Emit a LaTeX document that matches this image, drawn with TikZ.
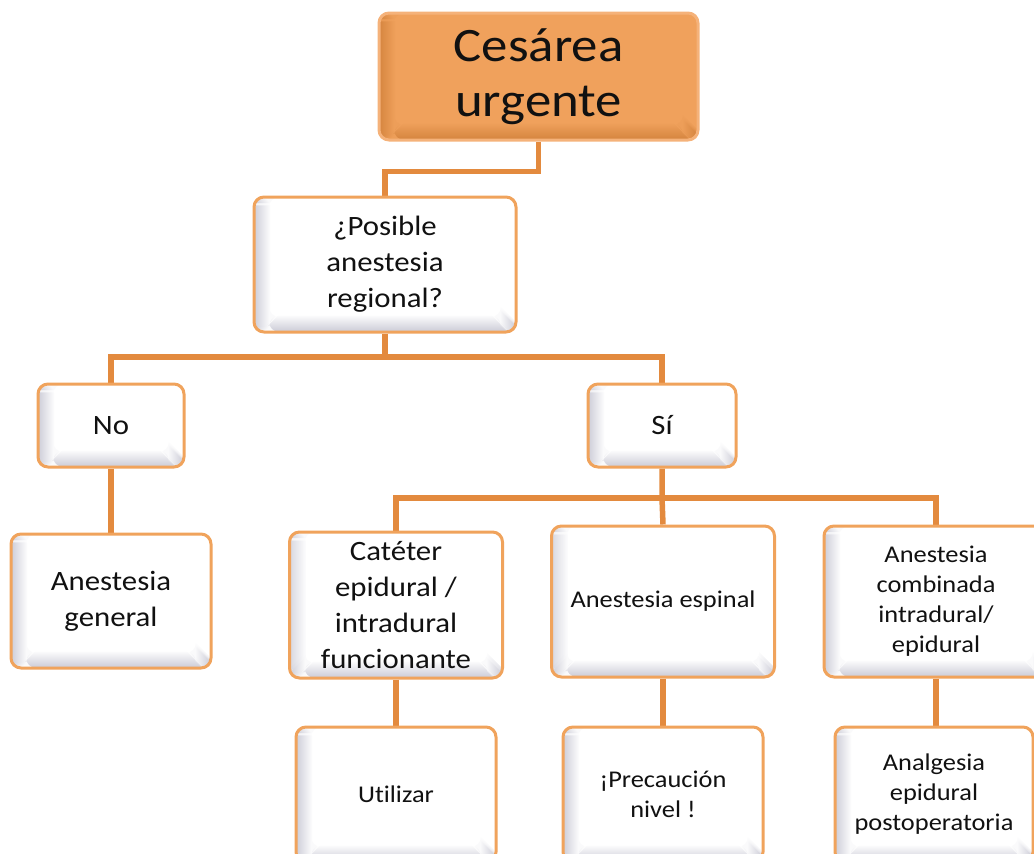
\documentclass[tikz,border=0pt]{standalone}
\usepackage{fontspec}
\setmainfont{Carlito}[FakeStretch=1.1,Ligatures={NoCommon}]
\usetikzlibrary{backgrounds,calc}
\definecolor{lineor}{HTML}{E38A3E}
\definecolor{boxor}{HTML}{F0A35C}
\definecolor{topfill}{HTML}{F0A15C}
\definecolor{topbevel}{HTML}{D5853F}
\definecolor{topedge}{HTML}{F5B27A}
\definecolor{bevelgray}{HTML}{CDCDD8}
\definecolor{txt}{HTML}{111111}
\tikzset{
  bevel/.style 2 args={path picture={
    \foreach \i in {0,...,15}{
      \pgfmathtruncatemacro\p{100-6*\i}
      \fill[#1!\p!#2]
        ([xshift=\i pt]path picture bounding box.south west) rectangle
        ([xshift=\i pt+1.2pt]path picture bounding box.north west);
      \fill[#1!\p!#2]
        ([xshift=\i pt,yshift=\i pt]path picture bounding box.south west) rectangle
        ([xshift=-\i pt,yshift=\i pt+1.2pt]path picture bounding box.south east);
    }
  }}
}
\begin{document}
\begin{tikzpicture}[x=1pt,y=-1pt,
  wh/.style 2 args={minimum width=#1pt, minimum height=#2pt},
  box/.style={rectangle, rounded corners=10pt, draw=boxor, line width=3pt,
    fill=white, align=center, inner sep=0pt, text=txt, bevel={bevelgray}{white}},
  topbox/.style={rectangle, rounded corners=10pt, draw=topedge, line width=3pt,
    fill=topfill, align=center, inner sep=0pt, text=txt,
    font=\fontsize{48}{55}\selectfont, bevel={topbevel}{topfill}},
  med/.style={font=\fontsize{28}{36}\selectfont},
  sml/.style={font=\fontsize{24}{30}\selectfont},
  conn/.style={draw=lineor, line width=5.5pt, line join=miter}
]
\useasboundingbox (0,0) rectangle (1034,854);

\node[topbox, wh={319}{127}] (top) at (538.5,76.5) {Cesárea\\urgente};
\node[box, med, wh={262}{135}] (pos) at (385,264.5) {¿Posible\\anestesia\\regional?};
\node[box, med, wh={146}{83}] (no) at (111,425.5) {No};
\node[box, med, wh={148}{83}] (si) at (662,425.5) {Sí};
\node[box, med, wh={200}{134}] (gen) at (111,601) {Anestesia\\general};
\node[box, med, wh={213}{146}] (cat) at (396,605) {Catéter\\epidural /\\intradural\\funcionante};
\node[box, sml, wh={223}{151}] (esp) at (663,601.5) {Anestesia espinal};
\node[box, sml, wh={224}{151}] (comb) at (936,601.5) {Anestesia\\combinada\\intradural/\\epidural};
\node[box, sml, wh={200}{135}] (util) at (396,794.5) {Utilizar};
\node[box, sml, wh={200}{135}] (prec) at (663,794.5) {¡Precaución\\nivel !};
\node[box, sml, wh={198}{135}] (anal) at (934,794.5) {Analgesia\\epidural\\postoperatoria};

\coordinate (b1) at (385,357);
\coordinate (b2) at (662,498);

\begin{scope}[on background layer]
  \draw[conn] (top.south) -- ++(0,30) -| (pos.north);
  \draw[conn] (pos.south) -- (b1);
  \draw[conn] (no.north) |- (b1) -| (si.north);
  \draw[conn] (no.south) -- (gen.north);
  \draw[conn] (si.south) -- (b2) -- (esp.north);
  \draw[conn] (cat.north) |- (b2) -| (comb.north);
  \draw[conn] (cat.south) -- (util.north);
  \draw[conn] (esp.south) -- (prec.north);
  \draw[conn] (comb.south) -- (comb.south |- anal.north);
\end{scope}
\end{tikzpicture}
\end{document}
